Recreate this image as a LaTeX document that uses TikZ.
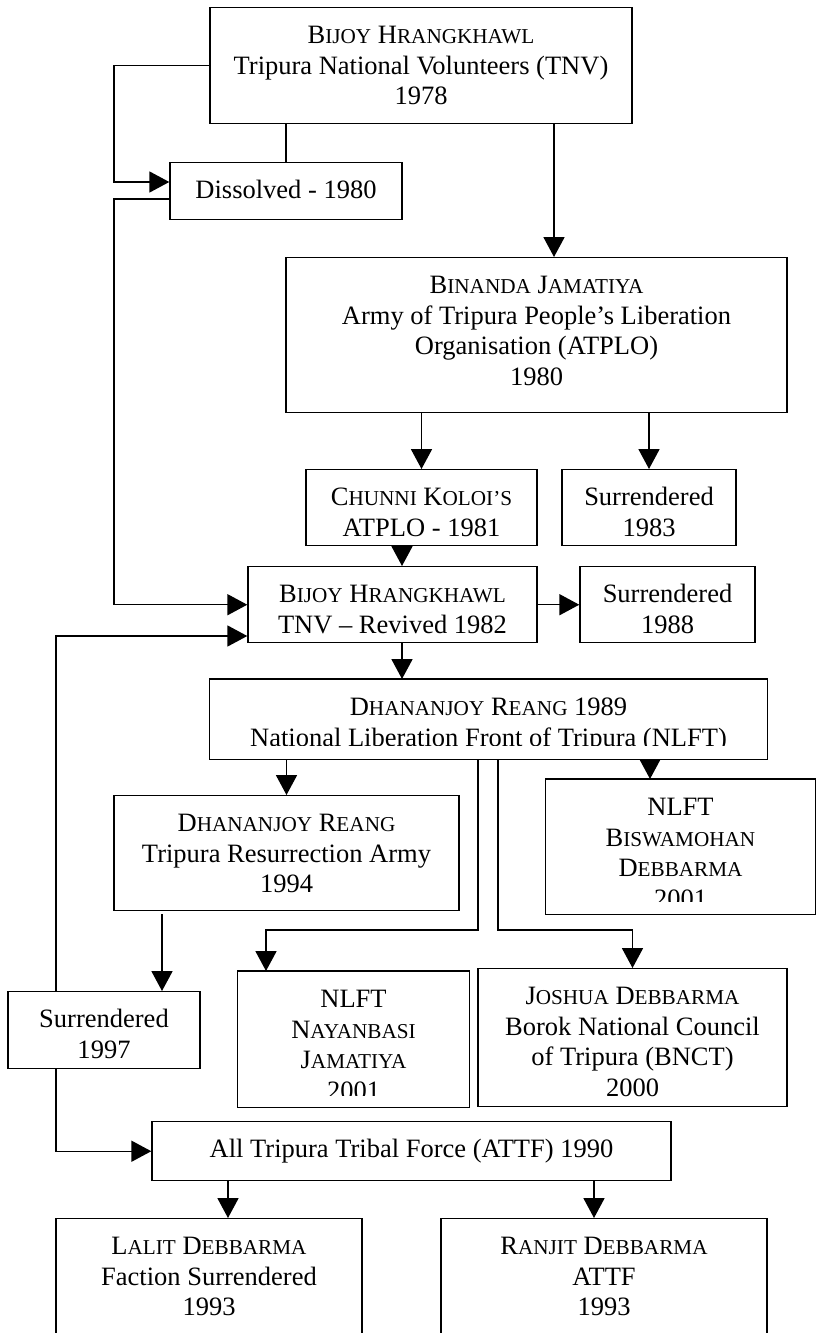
\documentclass[tikz,border=0pt]{standalone}
\usepackage{fontspec}
\setmainfont{Liberation Serif}
\usetikzlibrary{arrows.meta}
\newlength{\px}
\setlength{\px}{0.4528pt}
% Word-style small capitals
\newcommand{\lowcaps}[1]{{\fontsize{9.6}{13.8}\selectfont #1}}
\tikzset{
  % Set arrowhead
  >={Triangle[length=9pt, width=9.5pt]},
  % Outline box, text starts at the top
  box/.style={draw, line width=0.65pt, shape=rectangle, anchor=north,
    inner sep=0pt, align=center, font=\fontsize{12}{13.8}\selectfont},
  % Box whose text runs past its area
  cutbox/.style={box, draw=none},
  % Connectors
  link/.style={line width=0.65pt},
  arr/.style={link, ->},
}

\begin{document}
\begin{tikzpicture}[x=\px, y=-\px]
  \useasboundingbox (0,0) rectangle (819,1333);

  % boxes
  \node[box, minimum width=422\px, text height=97\px, text depth=19\px] (tnv) at (421,7)
    {B\lowcaps{IJOY} H\lowcaps{RANGKHAWL}\\Tripura National Volunteers (TNV)\\1978};
  \node[box, minimum width=232\px, text height=36\px, text depth=21\px] (dis) at (286,162)
    {Dissolved - 1980};
  \node[box, minimum width=501\px, text height=127.4\px, text depth=27.6\px] (atplo) at (536.5,257)
    {B\lowcaps{INANDA} J\lowcaps{AMATIYA}\\Army of Tripura People’s Liberation\\Organisation (ATPLO)\\1980};
  \node[box, minimum width=231\px, text height=66.5\px, text depth=9.5\px] (chunni) at (421.5,469)
    {C\lowcaps{HUNNI} K\lowcaps{OLOI’S}\\ATPLO - 1981};
  \node[box, minimum width=174\px, text height=66.5\px, text depth=9.5\px] (sur83) at (649,469)
    {Surrendered\\1983};
  \node[box, minimum width=289\px, text height=66.5\px, text depth=9.5\px] (tnvr) at (392.5,566)
    {B\lowcaps{IJOY} H\lowcaps{RANGKHAWL}\\TNV – Revived 1982};
  \node[box, minimum width=175\px, text height=66.5\px, text depth=9.5\px] (sur88) at (667.5,566)
    {Surrendered\\1988};
  \begin{scope}
    \clip (210,679) rectangle (767,745);
    \node[cutbox, minimum width=557\px, text height=66.5\px, text depth=12.5\px] (nlft) at (488.5,679)
      {D\lowcaps{HANANJOY} R\lowcaps{EANG} 1989\\National Liberation Front of Tripura (NLFT)};
  \end{scope}
  \draw[link] (nlft.north west) rectangle (nlft.south east);
  \node[box, minimum width=345\px, text height=97\px, text depth=18\px] (tra) at (286.5,795)
    {D\lowcaps{HANANJOY} R\lowcaps{EANG}\\Tripura Resurrection Army\\1994};
  \begin{scope}
    \clip (546,779) rectangle (815,901);
    \node[cutbox, minimum width=269\px, text height=127.4\px, text depth=6.6\px] (bisw) at (680.5,779)
      {NLFT\\B\lowcaps{ISWAMOHAN}\\D\lowcaps{EBBARMA}\\2001};
  \end{scope}
  \draw[link] (bisw.north west) rectangle (bisw.south east);
  \node[box, minimum width=192\px, text height=66.5\px, text depth=10.5\px] (sur97) at (104,991)
    {Surrendered\\1997};
  \begin{scope}
    \clip (238,971) rectangle (469,1095);
    \node[cutbox, minimum width=231\px, text height=127.4\px, text depth=7.6\px] (nayan) at (353.5,971)
      {NLFT\\N\lowcaps{AYANBASI}\\J\lowcaps{AMATIYA}\\2001};
  \end{scope}
  \draw[link] (nayan.north west) rectangle (nayan.south east);
  \node[box, minimum width=309\px, text height=127.4\px, text depth=10.6\px] (bnct) at (632.5,968)
    {J\lowcaps{OSHUA} D\lowcaps{EBBARMA}\\Borok National Council\\of Tripura (BNCT)\\2000};
  \node[box, minimum width=519\px, text height=36\px, text depth=23\px] (attf) at (411.5,1121)
    {All Tripura Tribal Force (ATTF) 1990};
  \node[box, minimum width=306\px, text height=97\px, text depth=33\px] (lalit) at (209,1218)
    {L\lowcaps{ALIT} D\lowcaps{EBBARMA}\\Faction Surrendered\\1993};
  \node[box, minimum width=326\px, text height=97\px, text depth=33\px] (ranjit) at (604,1218)
    {R\lowcaps{ANJIT} D\lowcaps{EBBARMA}\\ATTF\\1993};

  % bends and columns of the connectors
  \coordinate (k1) at (114,182);
  \coordinate (k2) at (554,0);
  \coordinate (k3) at (114,199);
  \coordinate (k4) at (402,0);
  \coordinate (k5) at (650,0);
  \coordinate (k6) at (478,930);
  \coordinate (k7) at (266,930);
  \coordinate (k8) at (498,930);
  \coordinate (k9) at (162,0);
  \coordinate (k10) at (56,636);
  \coordinate (k11) at (228,0);
  \coordinate (k12) at (594,0);

  % connectors
  \draw[arr] (tnv.west) -| (k1) -- (k1 -| dis.west);
  \draw[link] (dis.north |- tnv.south) -- (dis.north);
  \draw[arr] (tnv.south -| k2) -- (atplo.north -| k2);
  \draw[arr] (k3 -| dis.west) -- (k3) |- (tnvr.west);
  \draw[arr] (atplo.south -| chunni.north) -- (chunni.north);
  \draw[arr] (atplo.south -| sur83.north) -- (sur83.north);
  \draw[arr] (chunni.south -| k4) -- (tnvr.north -| k4);
  \draw[arr] (tnvr.east) -- (sur88.west);
  \draw[arr] (tnvr.south -| k4) -- (nlft.north -| k4);
  \draw[arr] (nlft.south -| tra.north) -- (tra.north);
  \draw[arr] (nlft.south -| k5) -- (bisw.north -| k5);
  \draw[arr] (nlft.south -| k6) -- (k6) -- (k7) -- (k7 |- nayan.north);
  \draw[arr] (nlft.south -| k8) -- (k8) -| (bnct.north);
  \draw[arr, shorten <=3\px] (tra.south -| k9) -- (sur97.north -| k9);
  \draw[arr] (sur97.north -| k10) -- (k10) -- (k10 -| tnvr.west);
  \draw[arr] (sur97.south -| k10) |- (attf.west);
  \draw[arr] (attf.south -| k11) -- (lalit.north -| k11);
  \draw[arr] (attf.south -| k12) -- (ranjit.north -| k12);
\end{tikzpicture}
\end{document}
